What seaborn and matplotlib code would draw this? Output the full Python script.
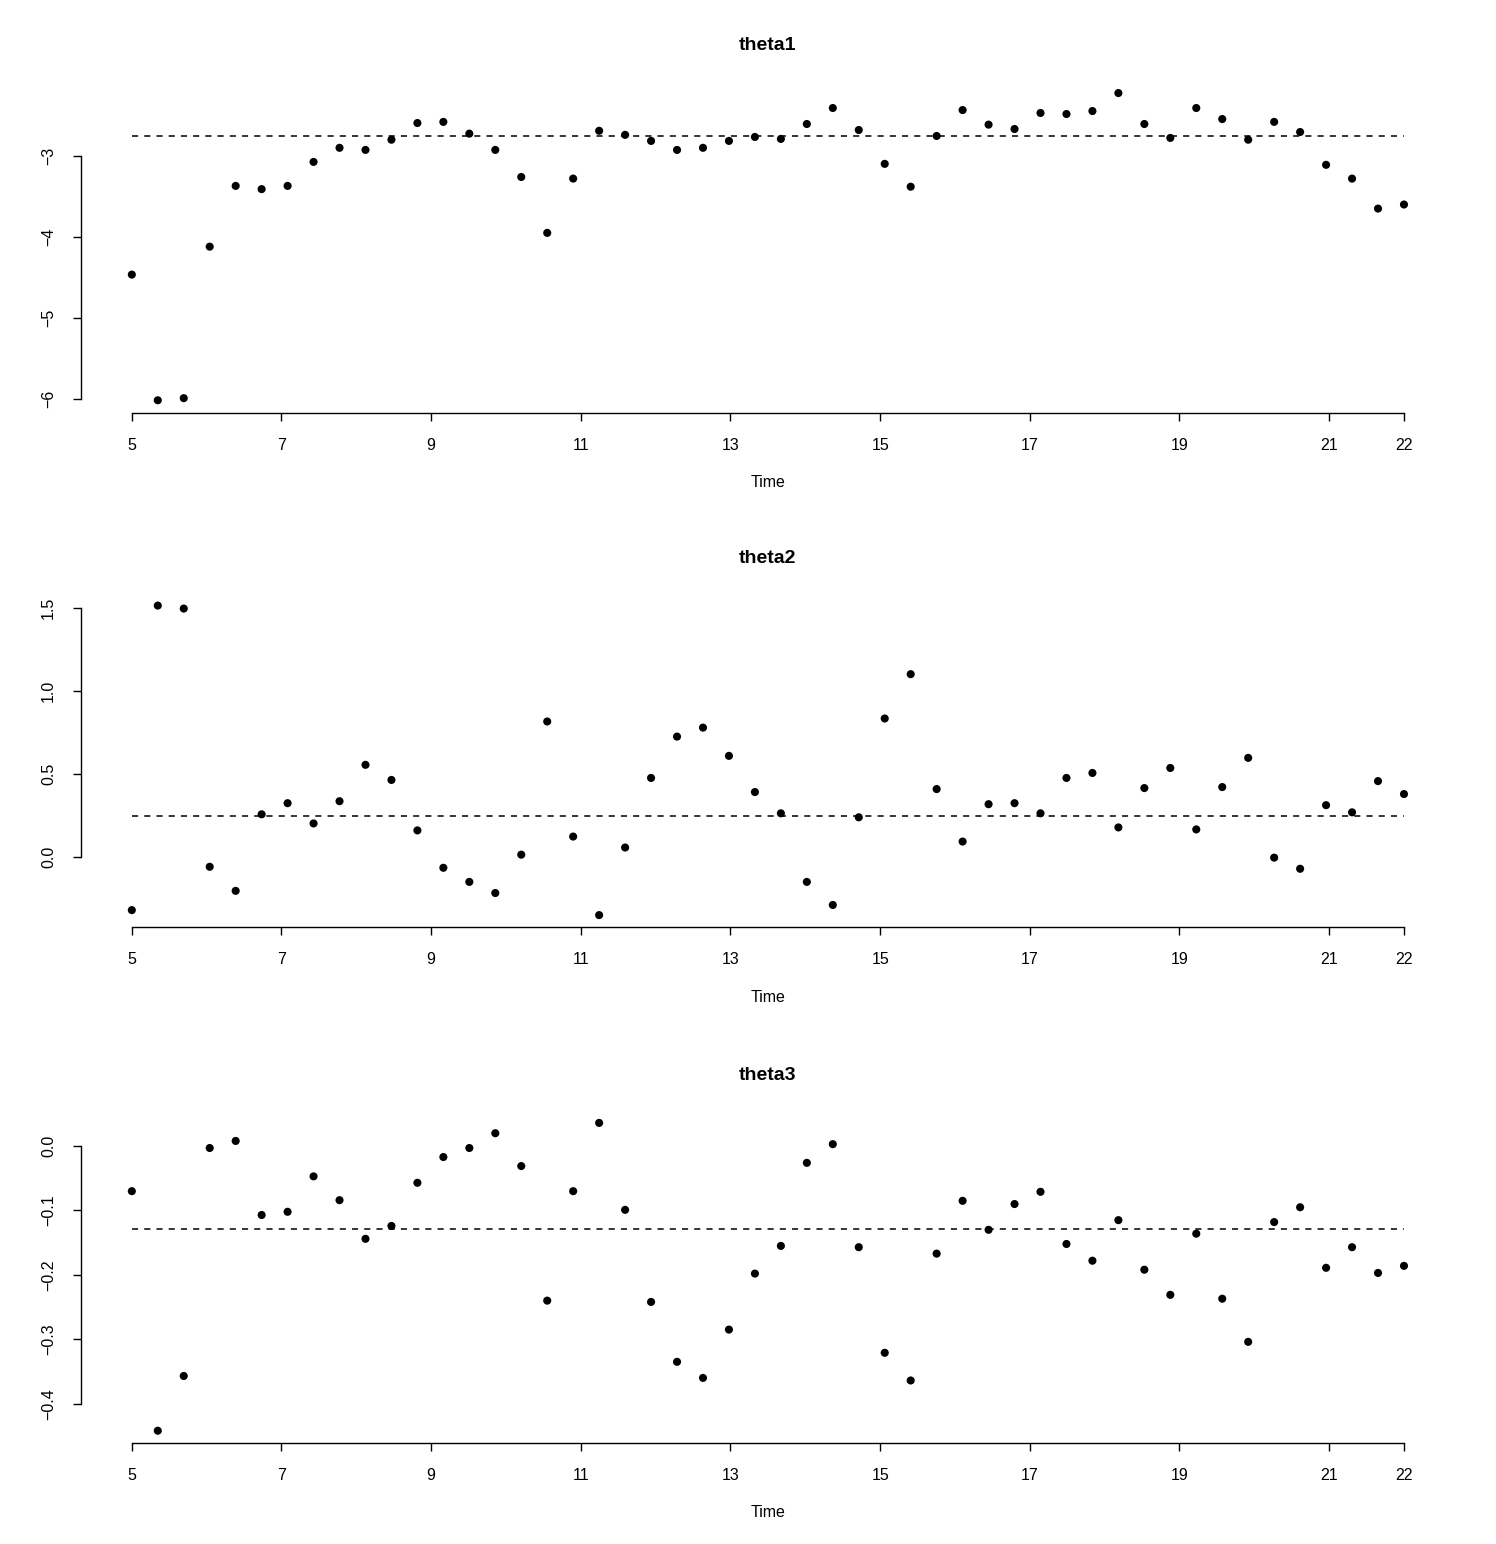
import numpy as np
import pandas as pd
import seaborn as sns
import matplotlib.pyplot as plt

# ----------------------------
# data
# ----------------------------

# ts index: 50 steps from 5 to 22
time = np.linspace(5, 22, 50)

theta1 = [
    -4.465, -6.016, -5.99, -4.12, -3.37, -3.41, -3.37, -3.074, -2.90, -2.926,
    -2.80, -2.594, -2.58, -2.725, -2.926, -3.26, -3.95, -3.28, -2.69, -2.74,
    -2.815, -2.926, -2.90, -2.815, -2.766, -2.79, -2.606, -2.409, -2.68, -3.098,
    -3.38, -2.754, -2.434, -2.614, -2.668, -2.47, -2.483, -2.446, -2.224, -2.606,
    -2.778, -2.409, -2.545, -2.80, -2.58, -2.705, -3.11, -3.28, -3.65, -3.60,
]
theta2 = [
    -0.32, 1.514, 1.496, -0.059, -0.204, 0.257, 0.324, 0.202, 0.336, 0.555,
    0.464, 0.160, -0.065, -0.150, -0.217, 0.014, 0.816, 0.123, -0.350, 0.057,
    0.476, 0.725, 0.779, 0.609, 0.391, 0.263, -0.150, -0.289, 0.239, 0.834,
    1.101, 0.409, 0.093, 0.318, 0.324, 0.263, 0.476, 0.506, 0.178, 0.415,
    0.536, 0.166, 0.421, 0.597, -0.004, -0.071, 0.312, 0.269, 0.457, 0.379,
]
theta3 = [
    -0.070, -0.442, -0.357, -0.003, 0.008, -0.107, -0.102, -0.047, -0.084, -0.144,
    -0.124, -0.057, -0.017, -0.003, 0.020, -0.031, -0.240, -0.070, 0.036, -0.099,
    -0.242, -0.335, -0.360, -0.285, -0.198, -0.155, -0.026, 0.003, -0.157, -0.321,
    -0.364, -0.167, -0.085, -0.130, -0.090, -0.071, -0.152, -0.178, -0.115, -0.192,
    -0.231, -0.136, -0.237, -0.304, -0.118, -0.095, -0.189, -0.157, -0.197, -0.186,
]

names = ["theta1", "theta2", "theta3"]
series = [theta1, theta2, theta3]
ref_level = [-2.754, 0.247, -0.128]

xticks = [5, 7, 9, 11, 13, 15, 17, 19, 21, 22]
yticks = [
    [-6, -5, -4, -3],
    [0.0, 0.5, 1.0, 1.5],
    [-0.4, -0.3, -0.2, -0.1, 0.0],
]
ylabels = [
    ["\u22126", "\u22125", "\u22124", "\u22123"],
    ["0.0", "0.5", "1.0", "1.5"],
    ["\u22120.4", "\u22120.3", "\u22120.2", "\u22120.1", "0.0"],
]

# ----------------------------
# plot (R base-graphics look)
# ----------------------------

sns.set_style("ticks")
plt.rcParams["font.family"] = ["Liberation Sans", "DejaVu Sans"]
plt.rcParams["text.color"] = "black"
plt.rcParams["axes.labelcolor"] = "black"

fig = plt.figure(figsize=(14.96, 15.44), dpi=100)

boxes = [
    (0.0541, 0.7328, 0.9184, 0.2149),
    (0.0541, 0.3993, 0.9184, 0.2165),
    (0.0541, 0.0654, 0.9184, 0.2153),
]

for i in range(3):
    ax = fig.add_axes(boxes[i])
    df = pd.DataFrame({"Time": time, "value": series[i]})

    sns.scatterplot(data=df, x="Time", y="value", ax=ax,
                    color="black", s=34, edgecolor="none")
    ax.hlines(ref_level[i], 5, 22, colors="black",
              linestyles=(0, (4, 4)), linewidth=1.1)

    lo, hi = min(series[i]), max(series[i])
    span = hi - lo
    ax.set_ylim(lo - 0.04 * span, hi + 0.04 * span)
    ax.set_xlim(5 - 0.04 * 17, 22 + 0.04 * 17)

    ax.set_xticks(xticks)
    ax.set_xticklabels([str(t) for t in xticks])
    ax.set_yticks(yticks[i])
    ax.set_yticklabels(ylabels[i], rotation=90, va="center")

    sns.despine(ax=ax)
    ax.spines["left"].set_bounds(yticks[i][0], yticks[i][-1])
    ax.spines["bottom"].set_bounds(5, 22)
    for s in ["left", "bottom"]:
        ax.spines[s].set_linewidth(1.0)
        ax.spines[s].set_color("black")

    ax.tick_params(axis="both", length=6, width=1.0, colors="black",
                   labelsize=11.5, pad=12)
    ax.set_title(names[i], fontweight="bold", fontsize=14, pad=22,
                 color="black")
    ax.set_xlabel("Time", fontsize=11.5, labelpad=16, color="black")
    ax.set_ylabel("")

fig.savefig("out.png", dpi=100)
